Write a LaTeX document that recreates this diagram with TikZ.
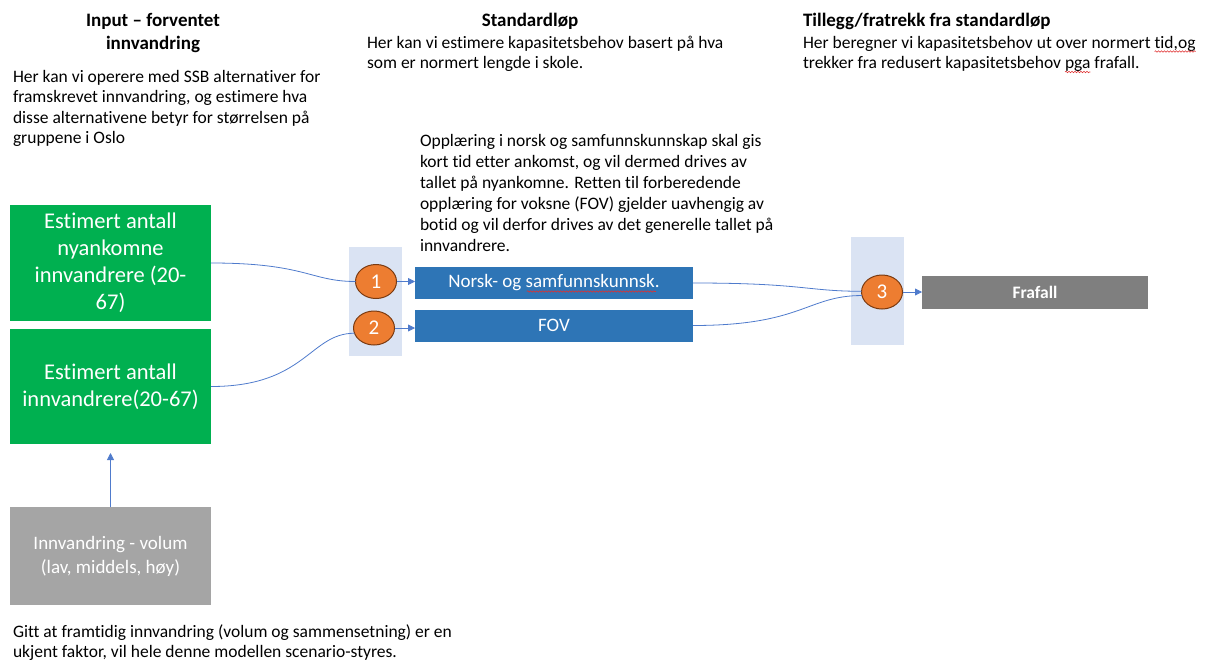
\documentclass[tikz,border=0pt]{standalone}
\usepackage{fontspec}
\setmainfont{Carlito}[Ligatures=NoCommon]
\usetikzlibrary{arrows.meta,shapes.geometric,decorations.pathmorphing}

\definecolor{boxgreen}{HTML}{00B050}
\definecolor{boxblue}{HTML}{2E75B6}
\definecolor{stepfill}{HTML}{ED7D31}
\definecolor{stepedge}{HTML}{7A3A10}
\definecolor{panelblue}{HTML}{DAE3F3}
\definecolor{srcgray}{HTML}{A5A5A5}
\definecolor{outgray}{HTML}{7F7F7F}
\definecolor{linkblue}{HTML}{4F7BCC}
\definecolor{spellred}{HTML}{E03030}

\begin{document}
\begin{tikzpicture}[x=1pt,y=-1pt,
  every node/.style={inner sep=0pt, outer sep=0pt},
  body/.style={font=\fontsize{17.5}{20.5}\selectfont, align=left, anchor=north west},
  bodyline/.style={font=\fontsize{17.5}{20.5}\selectfont, anchor=base west},
  head/.style={font=\bfseries\fontsize{19}{23}\selectfont},
  greenbox/.style={fill=boxgreen, text=white, align=center, minimum width=201pt,
    font=\fontsize{22.5}{27}\selectfont},
  bluebar/.style={fill=boxblue, text=white, minimum width=278pt, minimum height=32pt,
    font=\fontsize{19}{23}\selectfont},
  stepdot/.style={ellipse, fill=stepfill, draw=stepedge, line width=1pt,
    minimum width=41pt, minimum height=34pt, text=white, font=\fontsize{21}{25}\selectfont},
  panelbox/.style={fill=panelblue, minimum width=53pt},
  wire/.style={draw=linkblue, line width=0.8pt},
  wirearrow/.style={wire, -{Triangle[length=7pt,width=7pt]}},
  spellmark/.style={draw=spellred, line width=0.6pt, decorate,
    decoration={snake, amplitude=0.7pt, segment length=3pt}}
]
\useasboundingbox (0,0) rectangle (1214,664);

% column headings and explanations
\node[head, align=center, anchor=north] (inTitle) at (153,13) {Input – forventet\\innvandring};
\node[body] (inText) at (13,70) {Her kan vi operere med SSB alternativer for\\framskrevet innvandring, og estimere hva\\disse alternativene betyr for størrelsen på\\gruppene i Oslo};

\node[head, anchor=base] (stdTitle) at (530,26) {Standardløp};
\node[body] (stdText) at (367,36) {Her kan vi estimere kapasitetsbehov basert på hva\\som er normert lengde i skole.};

\node[head, anchor=base west] (addTitle) at (803,26) {Tillegg/fratrekk fra standardløp};
\node[bodyline] (add1) at (803,48) {Her beregner vi kapasitetsbehov ut over normert};
\node[bodyline] (add1b) at ([xshift=3.96pt]add1.base east) {tid,og};
\node[bodyline] (add2) at (803,68.5) {trekker fra redusert kapasitetsbehov};
\node[bodyline] (add2b) at ([xshift=3.96pt]add2.base east) {pga};
\node[bodyline] (add2c) at ([xshift=3.96pt]add2b.base east) {frafall.};
\draw[spellmark] ([yshift=-3.5pt]add1b.base west) -- ([yshift=-3.5pt]add1b.base east);
\draw[spellmark] ([yshift=-3.5pt]add2b.base west) -- ([yshift=-3.5pt]add2b.base east);

\node[body, font=\fontsize{17.5}{21}\selectfont] (midText) at (420,134) {Opplæring i norsk og samfunnskunnskap skal gis\\kort tid etter ankomst, og vil dermed drives av\\tallet på nyankomne. Retten til forberedende\\opplæring for voksne (FOV) gjelder uavhengig av\\botid og vil derfor drives av det generelle tallet på\\innvandrere.};

\node[body, font=\fontsize{17.5}{20}\selectfont] (noteText) at (13,625) {Gitt at framtidig innvandring (volum og sammensetning) er en\\ukjent faktor, vil hele denne modellen scenario-styres.};

% input boxes
\node[greenbox, minimum height=116pt] (g1) at (110.5,263) {Estimert antall\\nyankomne\\innvandrere (20-\\67)};
\node[greenbox, minimum height=115pt] (g2) at (110.5,386.5) {Estimert antall\\innvandrere(20-67)};
\node[fill=srcgray, text=white, minimum width=201pt, minimum height=98pt, align=center,
  font=\fontsize{19}{24}\selectfont] (src) at (110.5,556) {Innvandring - volum\\(lav, middels, høy)};

% shaded step columns
\node[panelbox, minimum height=109pt] (p1) at (375.5,301.5) {};
\node[panelbox, minimum height=108pt] (p2) at (877.5,291) {};

% standard course and outcome bars
\node[bluebar] (nor) at (554,283) {Norsk- og samfunnskunnsk.};
\draw[spellmark] ([xshift=78.4pt,yshift=-3.5pt]nor.text) -- ++(129,0);
\node[bluebar] (fov) at (554,325.5) {FOV};
\node[fill=outgray, text=white, minimum width=226pt, minimum height=33pt,
  font=\bfseries\fontsize{17.5}{21}\selectfont] (fra) at (1035,292.5) {Frafall};

% numbered steps
\node[stepdot] (s1) at (376,281.5) {1};
\node[stepdot] (s2) at (374,328) {2};
\node[stepdot] (s3) at (882,292) {3};

% connectors
\draw[wire] (g1.east) .. controls +(95,0) and +(-45,0) .. (s1.west);
\draw[wire] (g2.east) .. controls +(95,0) and +(-45,0) .. (s2.195);
\draw[wire] (nor.east) .. controls +(110,0) and +(-55,0) .. (s3.178);
\draw[wire] (fov.east) .. controls +(110,0) and +(-55,0) .. (s3.190);

\draw[wirearrow] (s1.east) -- (s1.east -| nor.west);
\draw[wirearrow] (s2.east) -- (s2.east -| fov.west);
\draw[wirearrow] (s3.east) -- (s3.east -| fra.west);
\draw[wirearrow, shorten >=9pt] (src.north) -- (g2.south);
\end{tikzpicture}
\end{document}
